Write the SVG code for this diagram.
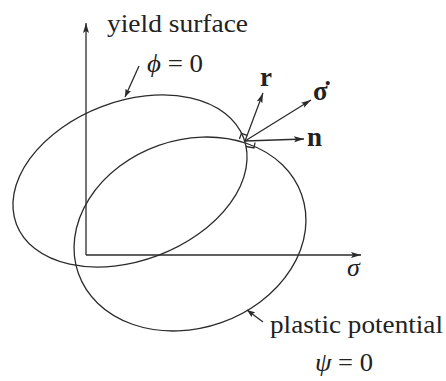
<svg xmlns="http://www.w3.org/2000/svg" width="446" height="381" viewBox="0 0 446 381">
<defs>
<style>
.ln{fill:none;stroke:#2b2b2b;stroke-width:1.3}
.t{font-family:"Liberation Serif","Times New Roman",serif;fill:#222;font-size:26px}
.b{font-weight:bold;font-size:27px}
.i{font-style:italic}
</style>
<marker id="ah" viewBox="0 0 10 6" refX="10" refY="3" markerWidth="10" markerHeight="6" markerUnits="userSpaceOnUse" orient="auto">
<path d="M0,0 L10,3 L0,6 L2,3 Z" fill="#2b2b2b"/>
</marker>
<marker id="ahs" viewBox="0 0 8 6" refX="8" refY="3" markerWidth="8" markerHeight="6" markerUnits="userSpaceOnUse" orient="auto">
<path d="M0,0 L8,3 L0,6 L1.5,3 Z" fill="#2b2b2b"/>
</marker>
</defs>
<rect width="446" height="381" fill="#fff"/>
<g id="axes">
<line class="ln" x1="86" y1="255" x2="86" y2="23" marker-end="url(#ah)"/>
<line class="ln" x1="86" y1="255" x2="361" y2="255" marker-end="url(#ah)"/>
<text class="t i" x="347" y="276">σ</text>
</g>
<g id="yield-surface">
<ellipse class="ln" cx="130" cy="181" rx="121.5" ry="79.6" transform="rotate(-20.8 130 181)"/>
<text class="t" x="107" y="32" textLength="141" lengthAdjust="spacingAndGlyphs">yield surface</text>
<text class="t" x="147" y="72" textLength="56" lengthAdjust="spacingAndGlyphs"><tspan class="i">ϕ</tspan> = 0</text>
</g>
<g id="plastic-potential">
<ellipse class="ln" cx="190" cy="234" rx="118.4" ry="94" transform="rotate(-19.4 190 234)"/>
<text class="t" x="270" y="333" textLength="173" lengthAdjust="spacingAndGlyphs">plastic potential</text>
<text class="t" x="315" y="371" textLength="58" lengthAdjust="spacingAndGlyphs"><tspan class="i">ψ</tspan> = 0</text>
</g>
<g id="connectors">
<line class="ln" x1="139" y1="66" x2="125" y2="97" marker-end="url(#ahs)"/>
<line class="ln" x1="263" y1="322" x2="247" y2="310" marker-end="url(#ahs)"/>
<line class="ln" x1="245" y1="141" x2="263" y2="93" marker-end="url(#ah)"/>
<line class="ln" x1="245" y1="141" x2="311" y2="100" marker-end="url(#ah)"/>
<line class="ln" x1="245" y1="141" x2="304" y2="139" marker-end="url(#ah)"/>
<polyline class="ln" points="247.1,135.4 241.5,133.3 239.4,138.9"/>
<polyline class="ln" points="246,146.5 254,148 255,142.5"/>
</g>
<g id="labels">
<text class="t b" x="260" y="86">r</text>
<text class="t b" x="313" y="100">σ̇</text>
<text class="t b" x="307" y="146">n</text>
</g>
</svg>
